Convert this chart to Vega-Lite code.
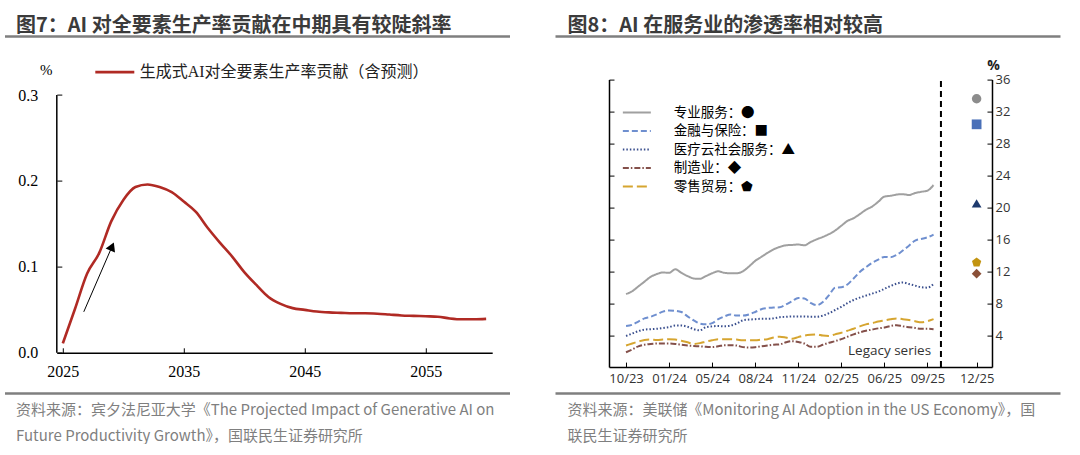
{
  "$schema": "https://vega.github.io/schema/vega-lite/v6.json",
  "background": "white",
  "padding": {"left": 14.8, "top": 14.6, "right": 0, "bottom": 0},
  "spacing": 5.2,
  "config": {"view": {"stroke": null}, "axis": {"grid": false}},
  "resolve": {
    "scale": {"color": "independent", "strokeDash": "independent"},
    "legend": {"color": "independent", "strokeDash": "independent"}
  },
  "datasets": {
    "tfp": [
      {"year": 2025, "v": 0.011}, {"year": 2026, "v": 0.051}, {"year": 2027, "v": 0.092}, {"year": 2028, "v": 0.116},
      {"year": 2029, "v": 0.153}, {"year": 2030, "v": 0.178}, {"year": 2031, "v": 0.193}, {"year": 2032, "v": 0.196},
      {"year": 2033, "v": 0.193}, {"year": 2034, "v": 0.187}, {"year": 2035, "v": 0.176}, {"year": 2036, "v": 0.164},
      {"year": 2037, "v": 0.145}, {"year": 2038, "v": 0.128}, {"year": 2039, "v": 0.112}, {"year": 2040, "v": 0.094},
      {"year": 2041, "v": 0.079}, {"year": 2042, "v": 0.065}, {"year": 2043, "v": 0.057}, {"year": 2044, "v": 0.052},
      {"year": 2045, "v": 0.050}, {"year": 2046, "v": 0.048}, {"year": 2047, "v": 0.047}, {"year": 2048, "v": 0.0465},
      {"year": 2049, "v": 0.046}, {"year": 2050, "v": 0.046}, {"year": 2051, "v": 0.0455}, {"year": 2052, "v": 0.0445},
      {"year": 2053, "v": 0.0435}, {"year": 2054, "v": 0.043}, {"year": 2055, "v": 0.0425}, {"year": 2056, "v": 0.042},
      {"year": 2057, "v": 0.040}, {"year": 2058, "v": 0.039}, {"year": 2059, "v": 0.039}, {"year": 2060, "v": 0.0395}
    ],
    "svc": [
      {"s":"专业服务","t":0,"v":9.15},{"s":"专业服务","t":1,"v":9.5},{"s":"专业服务","t":2,"v":10.1},{"s":"专业服务","t":3,"v":10.7},{"s":"专业服务","t":4,"v":11.3},{"s":"专业服务","t":5,"v":11.65},{"s":"专业服务","t":6,"v":11.85},{"s":"专业服务","t":7,"v":11.8},{"s":"专业服务","t":8,"v":12.25},{"s":"专业服务","t":9,"v":11.8},{"s":"专业服务","t":10,"v":11.4},{"s":"专业服务","t":11,"v":11.1},{"s":"专业服务","t":12,"v":11.05},{"s":"专业服务","t":13,"v":11.4},{"s":"专业服务","t":14,"v":11.75},{"s":"专业服务","t":15,"v":12.0},{"s":"专业服务","t":16,"v":11.8},{"s":"专业服务","t":17,"v":11.75},{"s":"专业服务","t":18,"v":11.75},{"s":"专业服务","t":19,"v":12.0},{"s":"专业服务","t":20,"v":12.6},{"s":"专业服务","t":21,"v":13.3},{"s":"专业服务","t":22,"v":13.8},{"s":"专业服务","t":23,"v":14.3},{"s":"专业服务","t":24,"v":14.75},{"s":"专业服务","t":25,"v":15.05},{"s":"专业服务","t":26,"v":15.25},{"s":"专业服务","t":27,"v":15.3},{"s":"专业服务","t":28,"v":15.35},{"s":"专业服务","t":29,"v":15.25},{"s":"专业服务","t":30,"v":15.65},{"s":"专业服务","t":31,"v":16.0},{"s":"专业服务","t":32,"v":16.3},{"s":"专业服务","t":33,"v":16.65},{"s":"专业服务","t":34,"v":17.1},{"s":"专业服务","t":35,"v":17.7},{"s":"专业服务","t":36,"v":18.3},{"s":"专业服务","t":37,"v":18.65},{"s":"专业服务","t":38,"v":19.15},{"s":"专业服务","t":39,"v":19.7},{"s":"专业服务","t":40,"v":20.1},{"s":"专业服务","t":41,"v":20.7},{"s":"专业服务","t":42,"v":21.35},{"s":"专业服务","t":43,"v":21.45},{"s":"专业服务","t":44,"v":21.6},{"s":"专业服务","t":45,"v":21.65},{"s":"专业服务","t":46,"v":21.55},{"s":"专业服务","t":47,"v":21.8},{"s":"专业服务","t":48,"v":21.95},{"s":"专业服务","t":49,"v":22.1},{"s":"专业服务","t":50,"v":22.8},
      {"s":"金融与保险","t":0,"v":5.15},{"s":"金融与保险","t":1,"v":5.3},{"s":"金融与保险","t":2,"v":5.7},{"s":"金融与保险","t":3,"v":6.1},{"s":"金融与保险","t":4,"v":6.3},{"s":"金融与保险","t":5,"v":6.6},{"s":"金融与保险","t":6,"v":6.95},{"s":"金融与保险","t":7,"v":7.1},{"s":"金融与保险","t":8,"v":7.05},{"s":"金融与保险","t":9,"v":6.9},{"s":"金融与保险","t":10,"v":6.35},{"s":"金融与保险","t":11,"v":5.85},{"s":"金融与保险","t":12,"v":5.45},{"s":"金融与保险","t":13,"v":5.35},{"s":"金融与保险","t":14,"v":5.5},{"s":"金融与保险","t":15,"v":6.0},{"s":"金融与保险","t":16,"v":6.35},{"s":"金融与保险","t":17,"v":6.6},{"s":"金融与保险","t":18,"v":6.45},{"s":"金融与保险","t":19,"v":6.45},{"s":"金融与保险","t":20,"v":6.6},{"s":"金融与保险","t":21,"v":6.9},{"s":"金融与保险","t":22,"v":7.25},{"s":"金融与保险","t":23,"v":7.4},{"s":"金融与保险","t":24,"v":7.45},{"s":"金融与保险","t":25,"v":7.5},{"s":"金融与保险","t":26,"v":7.85},{"s":"金融与保险","t":27,"v":8.25},{"s":"金融与保险","t":28,"v":8.65},{"s":"金融与保险","t":29,"v":8.6},{"s":"金融与保险","t":30,"v":8.05},{"s":"金融与保险","t":31,"v":7.75},{"s":"金融与保险","t":32,"v":8.15},{"s":"金融与保险","t":33,"v":9.0},{"s":"金融与保险","t":34,"v":9.95},{"s":"金融与保险","t":35,"v":10.0},{"s":"金融与保险","t":36,"v":10.35},{"s":"金融与保险","t":37,"v":11.1},{"s":"金融与保险","t":38,"v":11.9},{"s":"金融与保险","t":39,"v":12.5},{"s":"金融与保险","t":40,"v":13.05},{"s":"金融与保险","t":41,"v":13.45},{"s":"金融与保险","t":42,"v":13.8},{"s":"金融与保险","t":43,"v":13.75},{"s":"金融与保险","t":44,"v":14.05},{"s":"金融与保险","t":45,"v":14.6},{"s":"金融与保险","t":46,"v":15.2},{"s":"金融与保险","t":47,"v":15.85},{"s":"金融与保险","t":48,"v":16.05},{"s":"金融与保险","t":49,"v":16.25},{"s":"金融与保险","t":50,"v":16.6},
      {"s":"医疗云社会服务","t":0,"v":3.9},{"s":"医疗云社会服务","t":1,"v":4.2},{"s":"医疗云社会服务","t":2,"v":4.5},{"s":"医疗云社会服务","t":3,"v":4.7},{"s":"医疗云社会服务","t":4,"v":4.75},{"s":"医疗云社会服务","t":5,"v":4.8},{"s":"医疗云社会服务","t":6,"v":4.9},{"s":"医疗云社会服务","t":7,"v":5.0},{"s":"医疗云社会服务","t":8,"v":5.2},{"s":"医疗云社会服务","t":9,"v":5.2},{"s":"医疗云社会服务","t":10,"v":5.05},{"s":"医疗云社会服务","t":11,"v":4.75},{"s":"医疗云社会服务","t":12,"v":4.6},{"s":"医疗云社会服务","t":13,"v":5.0},{"s":"医疗云社会服务","t":14,"v":5.1},{"s":"医疗云社会服务","t":15,"v":5.15},{"s":"医疗云社会服务","t":16,"v":5.1},{"s":"医疗云社会服务","t":17,"v":5.2},{"s":"医疗云社会服务","t":18,"v":5.45},{"s":"医疗云社会服务","t":19,"v":5.85},{"s":"医疗云社会服务","t":20,"v":5.95},{"s":"医疗云社会服务","t":21,"v":6.0},{"s":"医疗云社会服务","t":22,"v":6.05},{"s":"医疗云社会服务","t":23,"v":6.05},{"s":"医疗云社会服务","t":24,"v":6.1},{"s":"医疗云社会服务","t":25,"v":6.25},{"s":"医疗云社会服务","t":26,"v":6.3},{"s":"医疗云社会服务","t":27,"v":6.35},{"s":"医疗云社会服务","t":28,"v":6.35},{"s":"医疗云社会服务","t":29,"v":6.35},{"s":"医疗云社会服务","t":30,"v":6.3},{"s":"医疗云社会服务","t":31,"v":6.3},{"s":"医疗云社会服务","t":32,"v":6.45},{"s":"医疗云社会服务","t":33,"v":6.75},{"s":"医疗云社会服务","t":34,"v":7.15},{"s":"医疗云社会服务","t":35,"v":7.55},{"s":"医疗云社会服务","t":36,"v":8.0},{"s":"医疗云社会服务","t":37,"v":8.4},{"s":"医疗云社会服务","t":38,"v":8.7},{"s":"医疗云社会服务","t":39,"v":8.95},{"s":"医疗云社会服务","t":40,"v":9.2},{"s":"医疗云社会服务","t":41,"v":9.45},{"s":"医疗云社会服务","t":42,"v":9.8},{"s":"医疗云社会服务","t":43,"v":10.15},{"s":"医疗云社会服务","t":44,"v":10.45},{"s":"医疗云社会服务","t":45,"v":10.6},{"s":"医疗云社会服务","t":46,"v":10.4},{"s":"医疗云社会服务","t":47,"v":10.2},{"s":"医疗云社会服务","t":48,"v":10.0},{"s":"医疗云社会服务","t":49,"v":9.95},{"s":"医疗云社会服务","t":50,"v":10.4},
      {"s":"制造业","t":0,"v":1.85},{"s":"制造业","t":1,"v":2.2},{"s":"制造业","t":2,"v":2.6},{"s":"制造业","t":3,"v":2.8},{"s":"制造业","t":4,"v":2.9},{"s":"制造业","t":5,"v":2.95},{"s":"制造业","t":6,"v":2.95},{"s":"制造业","t":7,"v":2.95},{"s":"制造业","t":8,"v":2.9},{"s":"制造业","t":9,"v":2.8},{"s":"制造业","t":10,"v":2.7},{"s":"制造业","t":11,"v":2.65},{"s":"制造业","t":12,"v":2.6},{"s":"制造业","t":13,"v":2.55},{"s":"制造业","t":14,"v":2.5},{"s":"制造业","t":15,"v":2.6},{"s":"制造业","t":16,"v":2.75},{"s":"制造业","t":17,"v":2.75},{"s":"制造业","t":18,"v":2.7},{"s":"制造业","t":19,"v":2.5},{"s":"制造业","t":20,"v":2.45},{"s":"制造业","t":21,"v":2.5},{"s":"制造业","t":22,"v":2.6},{"s":"制造业","t":23,"v":2.7},{"s":"制造业","t":24,"v":2.8},{"s":"制造业","t":25,"v":2.85},{"s":"制造业","t":26,"v":3.1},{"s":"制造业","t":27,"v":3.25},{"s":"制造业","t":28,"v":3.15},{"s":"制造业","t":29,"v":2.95},{"s":"制造业","t":30,"v":2.55},{"s":"制造业","t":31,"v":2.55},{"s":"制造业","t":32,"v":2.8},{"s":"制造业","t":33,"v":3.05},{"s":"制造业","t":34,"v":3.25},{"s":"制造业","t":35,"v":3.5},{"s":"制造业","t":36,"v":3.8},{"s":"制造业","t":37,"v":4.1},{"s":"制造业","t":38,"v":4.35},{"s":"制造业","t":39,"v":4.55},{"s":"制造业","t":40,"v":4.7},{"s":"制造业","t":41,"v":4.85},{"s":"制造业","t":42,"v":4.95},{"s":"制造业","t":43,"v":5.15},{"s":"制造业","t":44,"v":5.25},{"s":"制造业","t":45,"v":5.1},{"s":"制造业","t":46,"v":5.0},{"s":"制造业","t":47,"v":4.9},{"s":"制造业","t":48,"v":4.8},{"s":"制造业","t":49,"v":4.8},{"s":"制造业","t":50,"v":4.75},
      {"s":"零售贸易","t":0,"v":2.7},{"s":"零售贸易","t":1,"v":2.95},{"s":"零售贸易","t":2,"v":3.2},{"s":"零售贸易","t":3,"v":3.4},{"s":"零售贸易","t":4,"v":3.45},{"s":"零售贸易","t":5,"v":3.4},{"s":"零售贸易","t":6,"v":3.45},{"s":"零售贸易","t":7,"v":3.5},{"s":"零售贸易","t":8,"v":3.45},{"s":"零售贸易","t":9,"v":3.3},{"s":"零售贸易","t":10,"v":3.1},{"s":"零售贸易","t":11,"v":2.9},{"s":"零售贸易","t":12,"v":3.0},{"s":"零售贸易","t":13,"v":3.2},{"s":"零售贸易","t":14,"v":3.35},{"s":"零售贸易","t":15,"v":3.5},{"s":"零售贸易","t":16,"v":3.5},{"s":"零售贸易","t":17,"v":3.5},{"s":"零售贸易","t":18,"v":3.45},{"s":"零售贸易","t":19,"v":3.35},{"s":"零售贸易","t":20,"v":3.35},{"s":"零售贸易","t":21,"v":3.35},{"s":"零售贸易","t":22,"v":3.45},{"s":"零售贸易","t":23,"v":3.5},{"s":"零售贸易","t":24,"v":3.7},{"s":"零售贸易","t":25,"v":3.8},{"s":"零售贸易","t":26,"v":3.7},{"s":"零售贸易","t":27,"v":3.55},{"s":"零售贸易","t":28,"v":3.75},{"s":"零售贸易","t":29,"v":3.95},{"s":"零售贸易","t":30,"v":4.05},{"s":"零售贸易","t":31,"v":4.1},{"s":"零售贸易","t":32,"v":3.95},{"s":"零售贸易","t":33,"v":3.9},{"s":"零售贸易","t":34,"v":4.1},{"s":"零售贸易","t":35,"v":4.3},{"s":"零售贸易","t":36,"v":4.55},{"s":"零售贸易","t":37,"v":4.8},{"s":"零售贸易","t":38,"v":5.1},{"s":"零售贸易","t":39,"v":5.35},{"s":"零售贸易","t":40,"v":5.5},{"s":"零售贸易","t":41,"v":5.7},{"s":"零售贸易","t":42,"v":5.85},{"s":"零售贸易","t":43,"v":6.0},{"s":"零售贸易","t":44,"v":6.1},{"s":"零售贸易","t":45,"v":6.0},{"s":"零售贸易","t":46,"v":5.9},{"s":"零售贸易","t":47,"v":5.75},{"s":"零售贸易","t":48,"v":5.6},{"s":"零售贸易","t":49,"v":5.75},{"s":"零售贸易","t":50,"v":6.0}
    ],
    "dec": [
      {"sector": "专业服务", "t": 57, "v": 33.6},
      {"sector": "金融与保险", "t": 57, "v": 30.4},
      {"sector": "医疗云社会服务", "t": 57, "v": 20.5},
      {"sector": "零售贸易", "t": 57, "v": 13.1},
      {"sector": "制造业", "t": 57, "v": 11.7}
    ]
  },
  "hconcat": [
    {
      "width": 435.4,
      "height": 273.2,
      "layer": [
        {
          "data": {"name": "tfp"},
          "mark": {"type": "line", "strokeWidth": 2.6, "interpolate": "monotone"},
          "encoding": {
            "x": {"field": "year", "type": "quantitative",
              "scale": {"domain": [2024.5, 2060.5], "nice": false, "zero": false},
              "axis": {"values": [2025, 2035, 2045, 2055], "format": "d", "tickSize": -5, "tickColor": "#000", "domainColor": "#000", "domainWidth": 1.5, "labelPadding": 16, "labelFont": "Liberation Serif", "labelFontSize": 16, "labelColor": "#000", "labelFlush": false, "title": null}},
            "y": {"field": "v", "type": "quantitative",
              "scale": {"domain": [0, 0.31804], "nice": false},
              "axis": {"values": [0, 0.1, 0.2, 0.3], "format": ".1f", "domain": false, "tickSize": -5, "tickColor": "#000", "labelPadding": 24, "labelFont": "Liberation Serif", "labelFontSize": 16, "labelColor": "#000",
                "title": "%", "titleAngle": 0, "titleX": -11, "titleY": -10.5, "titleAlign": "center", "titleBaseline": "middle", "titleFont": "Liberation Serif", "titleFontSize": 15, "titleFontWeight": "normal", "titleColor": "#000"}},
            "color": {"datum": "生成式AI对全要素生产率贡献（含预测）", "type": "nominal", "scale": {"range": ["#b02a24"]},
              "legend": {"title": null, "orient": "none", "legendX": 37, "legendY": -28.5, "symbolType": "stroke", "symbolSize": 1521, "symbolStrokeWidth": 2.6, "labelFont": "'Liberation Serif', 'Noto Sans CJK SC'", "labelFontSize": 16, "labelColor": "#222", "labelOffset": 4, "labelLimit": 400}}
          }
        },
        {
          "data": {"values": [{"x": 2024.5, "y0": 0, "y1": 0.3}]},
          "mark": {"type": "rule", "color": "#000", "strokeWidth": 1.5},
          "encoding": {
            "x": {"field": "x", "type": "quantitative", "scale": {"domain": [2024.5, 2060.5], "nice": false, "zero": false}, "axis": null},
            "y": {"field": "y0", "type": "quantitative", "scale": {"domain": [0, 0.31804], "nice": false}, "axis": null},
            "y2": {"field": "y1"}
          }
        },
        {
          "data": {"values": [{"x0": 2026.73, "y0": 0.0477, "x1": 2029.07, "y1": 0.1238}]},
          "mark": {"type": "rule", "color": "#000", "strokeWidth": 1},
          "encoding": {
            "x": {"field": "x0", "type": "quantitative", "scale": {"domain": [2024.5, 2060.5], "nice": false, "zero": false}, "axis": null},
            "y": {"field": "y0", "type": "quantitative", "scale": {"domain": [0, 0.31804], "nice": false}, "axis": null},
            "x2": {"field": "x1"},
            "y2": {"field": "y1"}
          }
        },
        {
          "data": {"values": [{"x1": 2029.07, "y1": 0.1238}]},
          "mark": {"type": "point", "shape": "triangle-up", "filled": true, "color": "#000", "opacity": 1, "size": 105, "angle": 23.4},
          "encoding": {
            "x": {"field": "x1", "type": "quantitative", "scale": {"domain": [2024.5, 2060.5], "nice": false, "zero": false}, "axis": null},
            "y": {"field": "y1", "type": "quantitative", "scale": {"domain": [0, 0.31804], "nice": false}, "axis": null}
          }
        },
        {
          "data": {"values": [{"u": 0.5, "w": 0.5}]},
          "mark": {"type": "point", "opacity": 0, "size": 0, "filled": true},
          "encoding": {
            "x": {"field": "u", "type": "quantitative", "scale": {"domain": [0, 1], "range": [-52.3, 452.7]},
              "axis": {"orient": "top", "offset": 43.5, "ticks": false, "labels": false, "grid": false, "domainColor": "#7f7f7f", "domainWidth": 2.5,
                "title": "图7：AI 对全要素生产率贡献在中期具有较陡斜率", "titleX": -41.3, "titleY": -5, "titleAlign": "left", "titleBaseline": "alphabetic",
                "titleFont": "Noto Sans CJK SC", "titleFontSize": 20, "titleFontWeight": "bold", "titleColor": "#3b3b3b"}},
            "y": {"field": "w", "type": "quantitative", "scale": {"domain": [0, 1]}, "axis": null}
          }
        },
        {
          "data": {"values": [{"u": 0.5, "w": 0.5}]},
          "mark": {"type": "point", "opacity": 0, "size": 0, "filled": true},
          "encoding": {
            "x": {"field": "u", "type": "quantitative", "scale": {"domain": [0, 1], "range": [-52.3, 452.7]},
              "axis": {"orient": "bottom", "offset": 40.3, "ticks": false, "labels": false, "grid": false, "domainColor": "#7f7f7f", "domainWidth": 2.5,
                "title": ["资料来源：宾夕法尼亚大学《The Projected Impact of Generative AI on", "Future Productivity Growth》，国联民生证券研究所"],
                "titleX": -41.3, "titleY": 21, "titleAlign": "left", "titleBaseline": "alphabetic", "titleLineHeight": 26,
                "titleFont": "Noto Sans CJK SC", "titleFontSize": 15, "titleFontWeight": "normal", "titleColor": "#7f7f7f"}},
            "y": {"field": "w", "type": "quantitative", "scale": {"domain": [0, 1]}, "axis": null}
          }
        }
      ],
      "resolve": {"scale": {"x": "independent", "y": "independent"}, "axis": {"x": "independent", "y": "independent"}}
    },
    {
      "width": 383,
      "height": 287.5,
      "layer": [
        {
          "data": {"name": "svc"},
          "mark": {"type": "line", "strokeWidth": 2, "interpolate": "monotone"},
          "encoding": {
            "x": {"field": "t", "type": "quantitative",
              "scale": {"domain": [-2.77, 59.5], "nice": false, "zero": false},
              "axis": {"orient": "bottom", "values": [0, 7, 14, 21, 28, 35, 42, 49, 57],
                "labelExpr": "datum.value == 57 ? '12/25' : ['10/23','01/24','05/24','08/24','11/24','02/25','06/25','09/25'][datum.value / 7]",
                "tickSize": -5, "tickColor": "#000", "domainColor": "#000", "domainWidth": 1.5, "labelPadding": 10, "labelFont": "Open Sans", "labelFontSize": 13, "labelColor": "#333", "labelFlush": false, "title": null}},
            "y": {"field": "v", "type": "quantitative",
              "scale": {"domain": [0, 36], "nice": false},
              "axis": {"orient": "right", "values": [4, 8, 12, 16, 20, 24, 28, 32, 36], "tickSize": -5, "tickColor": "#000", "domainColor": "#000", "domainWidth": 1.5, "labelPadding": 8, "labelFont": "Open Sans", "labelFontSize": 13, "labelColor": "#333",
                "title": "%", "titleAngle": 0, "titleX": 1, "titleY": -14.5, "titleAlign": "center", "titleBaseline": "middle", "titleFont": "Open Sans", "titleFontSize": 14, "titleFontWeight": "bold", "titleColor": "#222"}},
            "color": {"field": "s", "type": "nominal",
              "scale": {"domain": ["专业服务", "金融与保险", "医疗云社会服务", "制造业", "零售贸易"], "range": ["#a0a0a0", "#6f8fcf", "#3a4f8e", "#84504a", "#d6a530"]},
              "legend": {"title": null, "orient": "none", "legendX": 19.85, "legendY": 25, "symbolType": "M-2,0H2", "symbolSize": 196, "symbolStrokeWidth": 2, "rowPadding": 3.5,
                "labelFont": "'Noto Sans CJK SC', 'DejaVu Sans'", "labelFontSize": 13.5, "labelColor": "#000", "labelOffset": 28.85, "labelLimit": 300,
                "labelExpr": "datum.label + '：' + (datum.label === '专业服务' ? '●' : datum.label === '金融与保险' ? '■' : datum.label === '医疗云社会服务' ? '▲' : datum.label === '制造业' ? '◆' : '⬟')"}},
            "strokeDash": {"field": "s", "type": "nominal",
              "scale": {"domain": ["专业服务", "金融与保险", "医疗云社会服务", "制造业", "零售贸易"], "range": [[1, 0], [6, 3], [1.5, 2], [6, 2, 1.5, 2], [10, 4]]},
              "legend": {"title": null, "orient": "none", "legendX": 19.85, "legendY": 25, "symbolType": "M-2,0H2", "symbolSize": 196, "symbolStrokeWidth": 2, "rowPadding": 3.5,
                "labelFont": "'Noto Sans CJK SC', 'DejaVu Sans'", "labelFontSize": 13.5, "labelColor": "#000", "labelOffset": 28.85, "labelLimit": 300,
                "labelExpr": "datum.label + '：' + (datum.label === '专业服务' ? '●' : datum.label === '金融与保险' ? '■' : datum.label === '医疗云社会服务' ? '▲' : datum.label === '制造业' ? '◆' : '⬟')"}}
          }
        },
        {
          "data": {"values": [{"t": 51.2, "lo": 0, "hi": 36}]},
          "mark": {"type": "rule", "color": "#000", "strokeWidth": 2, "strokeDash": [6, 4]},
          "encoding": {
            "x": {"field": "t", "type": "quantitative", "scale": {"domain": [-2.77, 59.5], "nice": false, "zero": false}, "axis": null},
            "y": {"field": "lo", "type": "quantitative", "scale": {"domain": [0, 36], "nice": false}, "axis": null},
            "y2": {"field": "hi"}
          }
        },
        {
          "data": {"values": [{"t": 49.6, "v": 1.5, "label": "Legacy series"}]},
          "mark": {"type": "text", "align": "right", "baseline": "alphabetic", "font": "Open Sans", "fontSize": 13.5, "color": "#333"},
          "encoding": {
            "x": {"field": "t", "type": "quantitative", "scale": {"domain": [-2.77, 59.5], "nice": false, "zero": false}, "axis": null},
            "y": {"field": "v", "type": "quantitative", "scale": {"domain": [0, 36], "nice": false}, "axis": null},
            "text": {"field": "label"}
          }
        },
        {
          "data": {"name": "dec"},
          "transform": [{"filter": "datum.sector === '专业服务'"}],
          "mark": {"type": "point", "shape": "circle", "filled": true, "color": "#8c8c8c", "opacity": 1, "size": 90},
          "encoding": {
            "x": {"field": "t", "type": "quantitative", "scale": {"domain": [-2.77, 59.5], "nice": false, "zero": false}, "axis": null},
            "y": {"field": "v", "type": "quantitative", "scale": {"domain": [0, 36], "nice": false}, "axis": null}
          }
        },
        {
          "data": {"name": "dec"},
          "transform": [{"filter": "datum.sector === '金融与保险'"}],
          "mark": {"type": "point", "shape": "square", "filled": true, "color": "#4a70b8", "opacity": 1, "size": 95},
          "encoding": {
            "x": {"field": "t", "type": "quantitative", "scale": {"domain": [-2.77, 59.5], "nice": false, "zero": false}, "axis": null},
            "y": {"field": "v", "type": "quantitative", "scale": {"domain": [0, 36], "nice": false}, "axis": null}
          }
        },
        {
          "data": {"name": "dec"},
          "transform": [{"filter": "datum.sector === '医疗云社会服务'"}],
          "mark": {"type": "point", "shape": "triangle-up", "filled": true, "color": "#1e3a6e", "opacity": 1, "size": 95},
          "encoding": {
            "x": {"field": "t", "type": "quantitative", "scale": {"domain": [-2.77, 59.5], "nice": false, "zero": false}, "axis": null},
            "y": {"field": "v", "type": "quantitative", "scale": {"domain": [0, 36], "nice": false}, "axis": null}
          }
        },
        {
          "data": {"name": "dec"},
          "transform": [{"filter": "datum.sector === '零售贸易'"}],
          "mark": {"type": "point", "shape": "M0,-1L0.951,-0.309L0.588,0.809L-0.588,0.809L-0.951,-0.309Z", "filled": true, "color": "#c39410", "opacity": 1, "size": 95},
          "encoding": {
            "x": {"field": "t", "type": "quantitative", "scale": {"domain": [-2.77, 59.5], "nice": false, "zero": false}, "axis": null},
            "y": {"field": "v", "type": "quantitative", "scale": {"domain": [0, 36], "nice": false}, "axis": null}
          }
        },
        {
          "data": {"name": "dec"},
          "transform": [{"filter": "datum.sector === '制造业'"}],
          "mark": {"type": "point", "shape": "diamond", "filled": true, "color": "#8b5038", "opacity": 1, "size": 95},
          "encoding": {
            "x": {"field": "t", "type": "quantitative", "scale": {"domain": [-2.77, 59.5], "nice": false, "zero": false}, "axis": null},
            "y": {"field": "v", "type": "quantitative", "scale": {"domain": [0, 36], "nice": false}, "axis": null}
          }
        },
        {
          "data": {"values": [{"u": 0.5, "w": 18}]},
          "mark": {"type": "point", "opacity": 0, "size": 0, "filled": true},
          "encoding": {
            "x": {"field": "u", "type": "quantitative", "scale": {"domain": [0, 1], "range": [-54, 451]},
              "axis": {"orient": "top", "offset": 43.5, "ticks": false, "labels": false, "grid": false, "domainColor": "#7f7f7f", "domainWidth": 2.5,
                "title": "图8：AI 在服务业的渗透率相对较高", "titleX": -42, "titleY": -5, "titleAlign": "left", "titleBaseline": "alphabetic",
                "titleFont": "Noto Sans CJK SC", "titleFontSize": 20, "titleFontWeight": "bold", "titleColor": "#3b3b3b"}},
            "y": {"field": "w", "type": "quantitative", "scale": {"domain": [0, 36], "nice": false},
              "axis": {"orient": "left", "values": [4, 8, 12, 16, 20, 24, 28, 32, 36], "labels": false, "tickSize": -5, "tickColor": "#000", "domainColor": "#000", "domainWidth": 1.5, "grid": false, "title": null}}
          }
        },
        {
          "data": {"values": [{"u": 0.5, "w": 0.5}]},
          "mark": {"type": "point", "opacity": 0, "size": 0, "filled": true},
          "encoding": {
            "x": {"field": "u", "type": "quantitative", "scale": {"domain": [0, 1], "range": [-54, 451]},
              "axis": {"orient": "bottom", "offset": 26, "ticks": false, "labels": false, "grid": false, "domainColor": "#7f7f7f", "domainWidth": 2.5,
                "title": ["资料来源：美联储《Monitoring AI Adoption in the US Economy》，国", "联民生证券研究所"],
                "titleX": -42, "titleY": 21, "titleAlign": "left", "titleBaseline": "alphabetic", "titleLineHeight": 26,
                "titleFont": "Noto Sans CJK SC", "titleFontSize": 15, "titleFontWeight": "normal", "titleColor": "#7f7f7f"}},
            "y": {"field": "w", "type": "quantitative", "scale": {"domain": [0, 1]}, "axis": null}
          }
        }
      ],
      "resolve": {"scale": {"x": "independent", "y": "independent"}, "axis": {"x": "independent", "y": "independent"}}
    }
  ]
}
